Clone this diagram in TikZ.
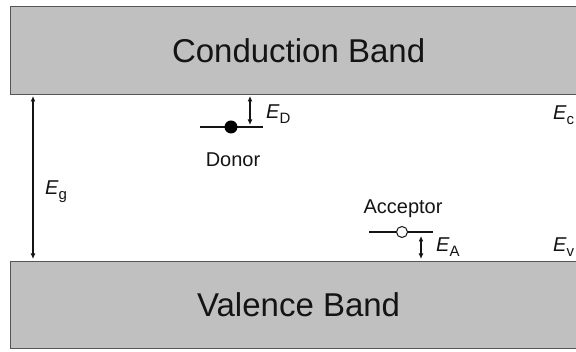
\documentclass[tikz,border=0pt]{standalone}
\usepackage{fontspec}
\setmainfont{Liberation Sans}
\usetikzlibrary{arrows.meta}
\definecolor{bandfill}{RGB}{192,192,192}
\definecolor{bandedge}{RGB}{85,85,85}
\definecolor{ink}{RGB}{20,20,20}
% energy symbol with an upright subscript
\newcommand\enlabel[2]{{\itshape #1}\raisebox{-5pt}{\fontsize{15}{15}\selectfont #2}}
\begin{document}
\begin{tikzpicture}[x=1pt,y=-1pt,
  band/.style={draw=bandedge, fill=bandfill, line width=1.2pt, inner sep=0pt,
    anchor=north west, font=\fontsize{33}{39}\selectfont, text=ink},
  lbl/.style={font=\fontsize{20}{24}\selectfont, inner sep=0pt, anchor=base, text=ink},
  elbl/.style={font=\fontsize{20}{24}\selectfont, inner sep=0pt, anchor=base west, text=ink},
  gaparrow/.style={draw=ink, line width=1.1pt,
    {Latex[length=5.5pt,width=5pt]}-{Latex[length=5.5pt,width=5pt]}},
  level/.style={draw=ink, line width=1.1pt},
]
\useasboundingbox (0,0) rectangle (576,352);

% bands
\node[band, minimum width=576pt, minimum height=88pt] (cb) at (10,6) {Conduction Band};
\node[band, minimum width=576pt, minimum height=87pt] (vb) at (10,261) {Valence Band};

% band gap
\coordinate (gt) at (33,96);
\coordinate (gb) at (33,259);
\draw[gaparrow] (gt) -- (gb);
\node[elbl] (eg) at (45,195) {\enlabel{E}{g}};

% donor level
\coordinate (dl) at (200,127);
\coordinate (dr) at (263,127);
\draw[level] (dl) -- (dr);
\node[circle, fill=black, minimum size=13pt, inner sep=0pt] (don) at (231,127) {};
\coordinate (edt) at (250,96);
\coordinate (edb) at (250,125);
\draw[gaparrow] (edt) -- (edb);
\node[elbl] (ed) at (266,119) {\enlabel{E}{D}};
\node[lbl] (dtxt) at (233,167) {Donor};

% acceptor level
\coordinate (al) at (369,232);
\coordinate (ar) at (433,232);
\draw[level] (al) -- (ar);
\node[circle, draw=ink, fill=white, line width=1pt, minimum size=11pt, inner sep=0pt] (acc) at (402,232) {};
\coordinate (eat) at (421,236);
\coordinate (eab) at (421,259);
\draw[gaparrow] (eat) -- (eab);
\node[elbl] (ea) at (436,252) {\enlabel{E}{A}};
\node[lbl] (atxt) at (403,214) {Acceptor};

% band edges
\node[elbl] (ec) at (553,120) {\enlabel{E}{c}};
\node[elbl] (ev) at (553,252) {\enlabel{E}{v}};
\end{tikzpicture}
\end{document}
